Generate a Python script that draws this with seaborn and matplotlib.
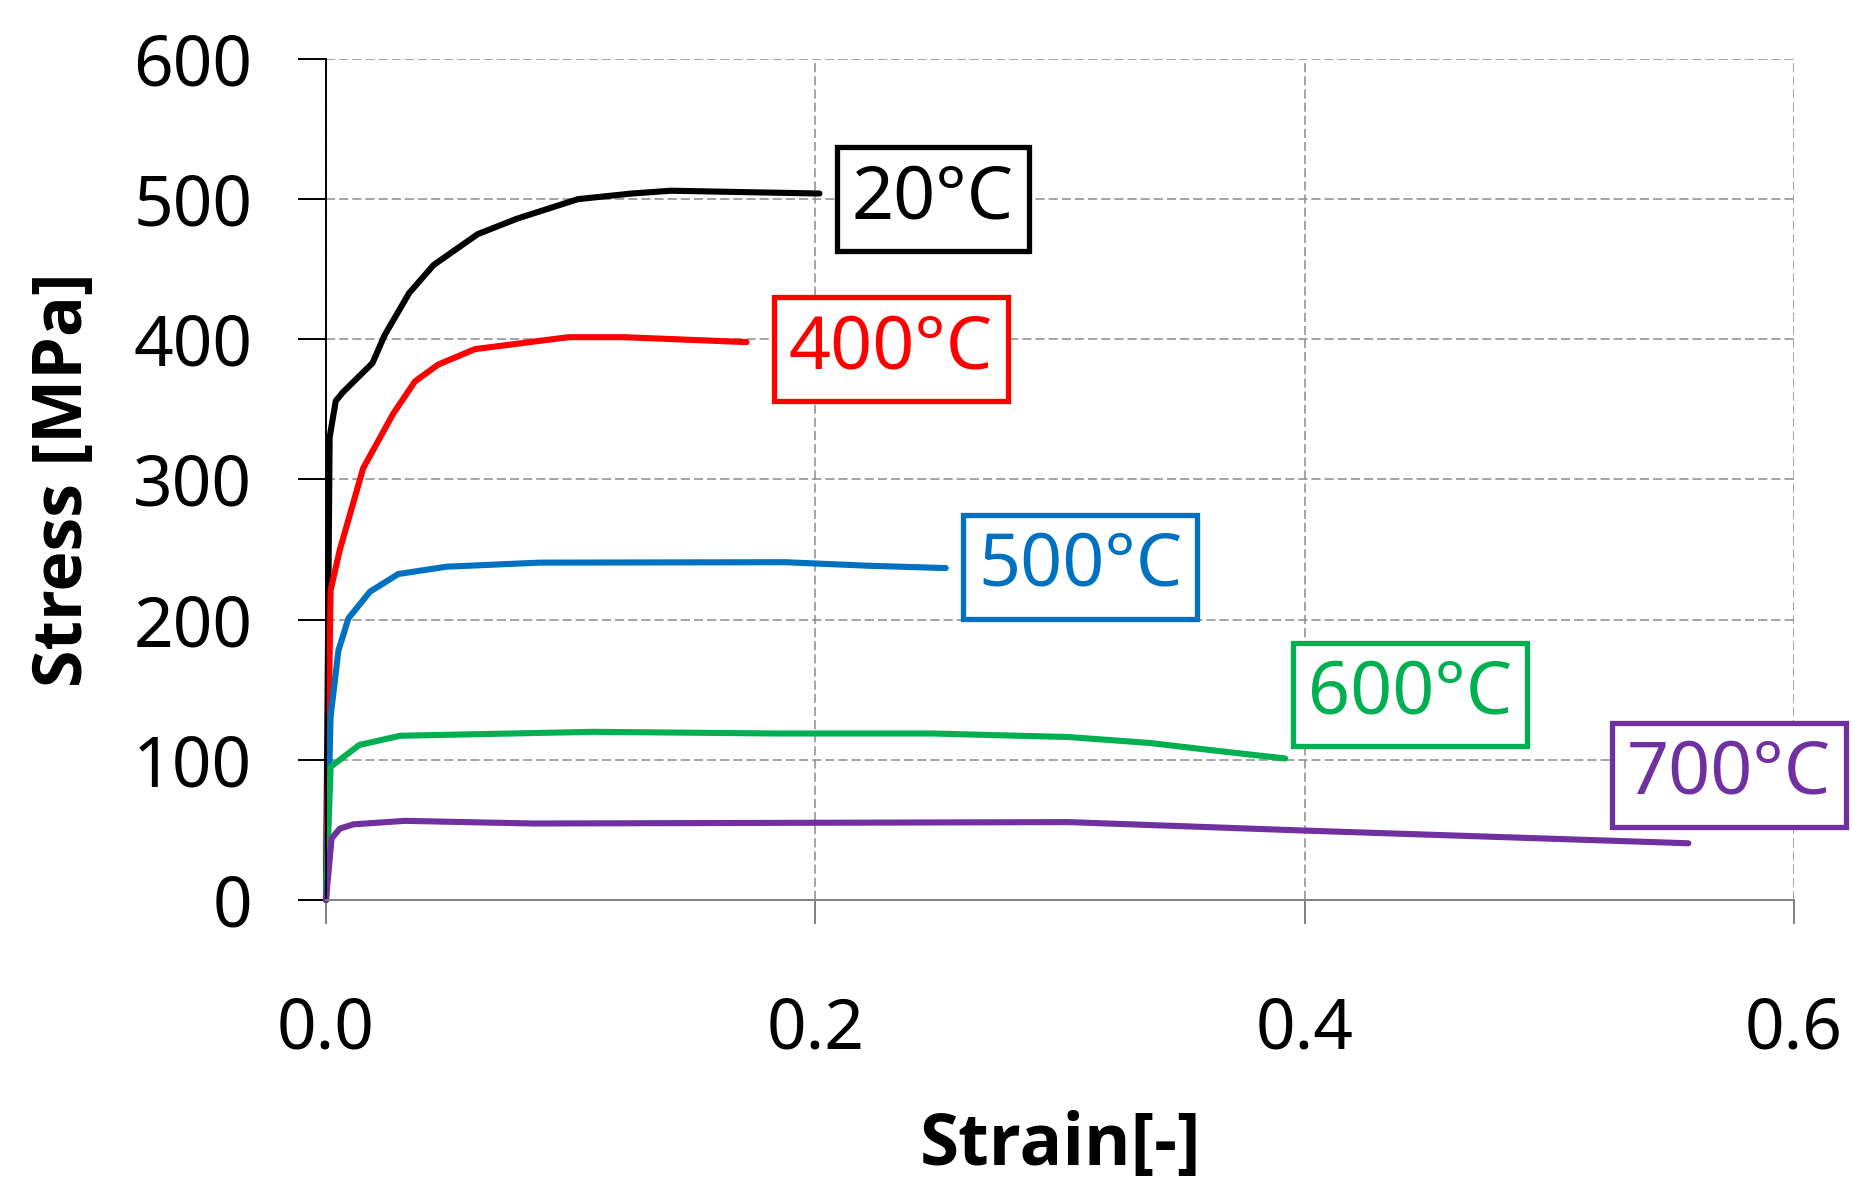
import matplotlib
matplotlib.use('Agg')
import pandas as pd
import matplotlib.pyplot as plt
import seaborn as sns

# stress-strain curves
strain_20 = [0, 0.0015, 0.004, 0.0068, 0.019, 0.024, 0.034, 0.044, 0.062, 0.078, 0.103, 0.125, 0.141, 0.2017]
stress_20 = [0, 330, 356, 362, 383, 403, 433, 453, 475, 486, 500, 504, 506, 504]

strain_400 = [0, 0.0019, 0.0057, 0.0152, 0.0275, 0.0364, 0.0459, 0.0609, 0.099, 0.1222, 0.1719]
stress_400 = [0, 221, 250, 308, 347, 370, 382, 393, 401.5, 401.5, 398]

strain_500 = [0, 0.0019, 0.0051, 0.0092, 0.018, 0.0296, 0.0493, 0.0874, 0.1877, 0.2215, 0.2533]
stress_500 = [0, 130.8, 178, 201, 220, 232.6, 237.8, 240.7, 241, 238.5, 236.8]

strain_600 = [0, 0.0019, 0.0136, 0.0303, 0.1092, 0.185, 0.248, 0.3035, 0.337, 0.3614, 0.392]
stress_600 = [0, 95, 110.6, 117.2, 120, 118.8, 118.8, 116.3, 112, 107, 101]

strain_700 = [0, 0.0023, 0.0057, 0.0112, 0.0323, 0.0847, 0.3035, 0.3976, 0.5568]
stress_700 = [0, 44, 51, 54, 56.5, 54.6, 55.6, 49.7, 40.5]

temps = ['20°C', '400°C', '500°C', '600°C', '700°C']
colors = ['#000000', '#FF0000', '#0070C0', '#00B050', '#7030A0']

x_ticks = [0.0, 0.2, 0.4, 0.6]
x_ticklabels = ['0.0', '0.2', '0.4', '0.6']
y_ticks = [0, 100, 200, 300, 400, 500, 600]

# where the boxed temperature tags sit (data coords)
tag_pos = {
    '20°C': (0.248, 500),
    '400°C': (0.2309, 393),
    '500°C': (0.3083, 237.6),
    '600°C': (0.443, 146.6),
    '700°C': (0.5735, 89.3),
}

curves = [(strain_20, stress_20), (strain_400, stress_400), (strain_500, stress_500),
          (strain_600, stress_600), (strain_700, stress_700)]
frames = []
for temp, (x, y) in zip(temps, curves):
    frames.append(pd.DataFrame({'Strain': x, 'Stress': y, 'Temp': temp}))
df = pd.concat(frames, ignore_index=True)

sns.set_style('white')
plt.rcParams['font.family'] = ['Noto Sans', 'DejaVu Sans']
plt.rcParams['text.color'] = 'black'
plt.rcParams['axes.labelcolor'] = 'black'
plt.rcParams['xtick.labelcolor'] = 'black'
plt.rcParams['ytick.labelcolor'] = 'black'

fig, ax = plt.subplots(figsize=(18.52, 11.79))
fig.subplots_adjust(left=0.176, right=0.9687, top=0.95, bottom=0.2366)

sns.lineplot(data=df, x='Strain', y='Stress', hue='Temp', hue_order=temps,
             palette=dict(zip(temps, colors)), sort=False, estimator=None,
             linewidth=4.4, legend=False, ax=ax)
for line in ax.lines:
    line.set_clip_on(False)
    line.set_linewidth(4.4)

for temp, c in zip(temps, colors):
    tx, ty = tag_pos[temp]
    ax.text(tx, ty, temp, color=c, fontsize=53, ha='center', va='center',
            bbox=dict(boxstyle='square,pad=0.2', fc='white', ec=c, lw=3.8))

ax.set_xlim(0, 0.6)
ax.set_ylim(0, 600)
ax.set_xticks(x_ticks)
ax.set_xticklabels(x_ticklabels)
ax.set_yticks(y_ticks)

ax.grid(True, linestyle=(0, (6, 2.6)), color='#8c8c8c', linewidth=1.1)
ax.set_axisbelow(True)

for side in ['top', 'right']:
    ax.spines[side].set_visible(False)
ax.spines['left'].set_color('black')
ax.spines['left'].set_linewidth(1.4)
ax.spines['bottom'].set_color('#808080')
ax.spines['bottom'].set_linewidth(1.4)

ax.tick_params(axis='y', direction='out', length=20, width=1.4, color='black',
               pad=33, labelsize=50, left=True, labelcolor='black')
ax.tick_params(axis='x', direction='out', length=17, width=1.4, color='#808080',
               pad=52, labelsize=50, bottom=True, labelcolor='black')

label_font = ['Open Sans', 'Noto Sans', 'DejaVu Sans']
ax.set_xlabel('Strain[-]', fontsize=51, fontweight='bold', family=label_font)
ax.set_ylabel('Stress [MPa]', fontsize=49, fontweight='bold', family=label_font)
ax.xaxis.set_label_coords(0.5, -0.25)
ax.yaxis.set_label_coords(-0.155, 0.5)

fig.savefig('out.png', dpi=100)
